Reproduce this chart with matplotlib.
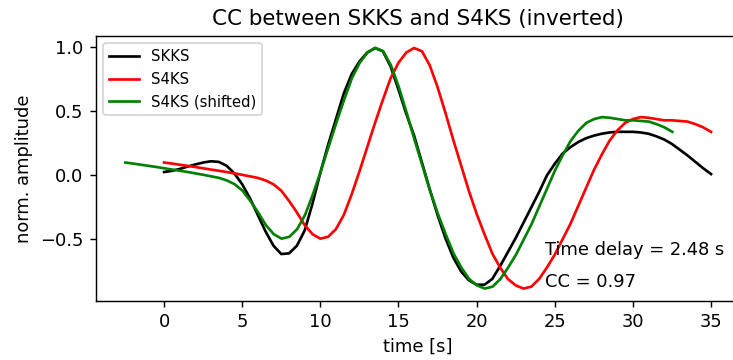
import numpy as np
import matplotlib
matplotlib.use("Agg")
import matplotlib.pyplot as plt
from matplotlib.ticker import MultipleLocator

# time axis, 0.5 s sampling
t = np.arange(0, 35.5, 0.5)

# SKKS trace (normalised)
skks = [0.026, 0.035, 0.05, 0.068, 0.085, 0.10, 0.11, 0.105, 0.075, 0.015,
        -0.07, -0.18, -0.31, -0.44, -0.55, -0.615, -0.61, -0.55, -0.43, -0.22,
        0.02, 0.24, 0.44, 0.64, 0.79, 0.89, 0.96, 0.995, 0.97, 0.85,
        0.67, 0.48, 0.31, 0.10, -0.11, -0.31, -0.49, -0.64, -0.75, -0.82,
        -0.855, -0.855, -0.81, -0.71, -0.60, -0.49, -0.37, -0.25, -0.13, 0.0,
        0.09, 0.17, 0.22, 0.26, 0.29, 0.31, 0.325, 0.335, 0.34, 0.34,
        0.34, 0.335, 0.325, 0.305, 0.28, 0.245, 0.20, 0.155, 0.105, 0.055,
        0.01]

# S4KS trace (inverted, normalised)
s4ks = [0.10, 0.092, 0.083, 0.074, 0.065, 0.055, 0.045, 0.036, 0.026, 0.015,
        0.004, -0.008, -0.02, -0.04, -0.07, -0.12, -0.20, -0.29, -0.39, -0.46,
        -0.495, -0.48, -0.42, -0.31, -0.15, 0.03, 0.22, 0.41, 0.59, 0.76,
        0.88, 0.96, 0.995, 0.97, 0.86, 0.69, 0.49, 0.28, 0.08, -0.12,
        -0.30, -0.46, -0.61, -0.72, -0.81, -0.86, -0.885, -0.87, -0.81, -0.72,
        -0.62, -0.50, -0.38, -0.24, -0.10, 0.04, 0.16, 0.27, 0.35, 0.41,
        0.44, 0.455, 0.45, 0.44, 0.43, 0.43, 0.425, 0.42, 0.40, 0.375,
        0.34]

delay = 2.48
cc = 0.97

dpi = 128.5
fig = plt.figure(figsize=(733 / dpi, 360 / dpi), dpi=dpi)
ax = fig.add_axes([0.131, 0.165, 0.879, 0.735])

ax.plot(t, skks, 'k', label='SKKS')
ax.plot(t, s4ks, 'r', label='S4KS')
ax.plot(t - delay, s4ks, 'g', label='S4KS (shifted)')

ax.text(24.4, -0.625, f'Time delay = {delay} s')
ax.text(24.4, -0.875, f'CC = {cc}')

ax.yaxis.set_major_locator(MultipleLocator(0.5))
ax.set_xlabel('time [s]')
ax.set_ylabel('norm. amplitude')
ax.set_title('CC between SKKS and S4KS (inverted)')
ax.legend(loc='upper left', fontsize='small')

fig.savefig('out.png', dpi=dpi)
